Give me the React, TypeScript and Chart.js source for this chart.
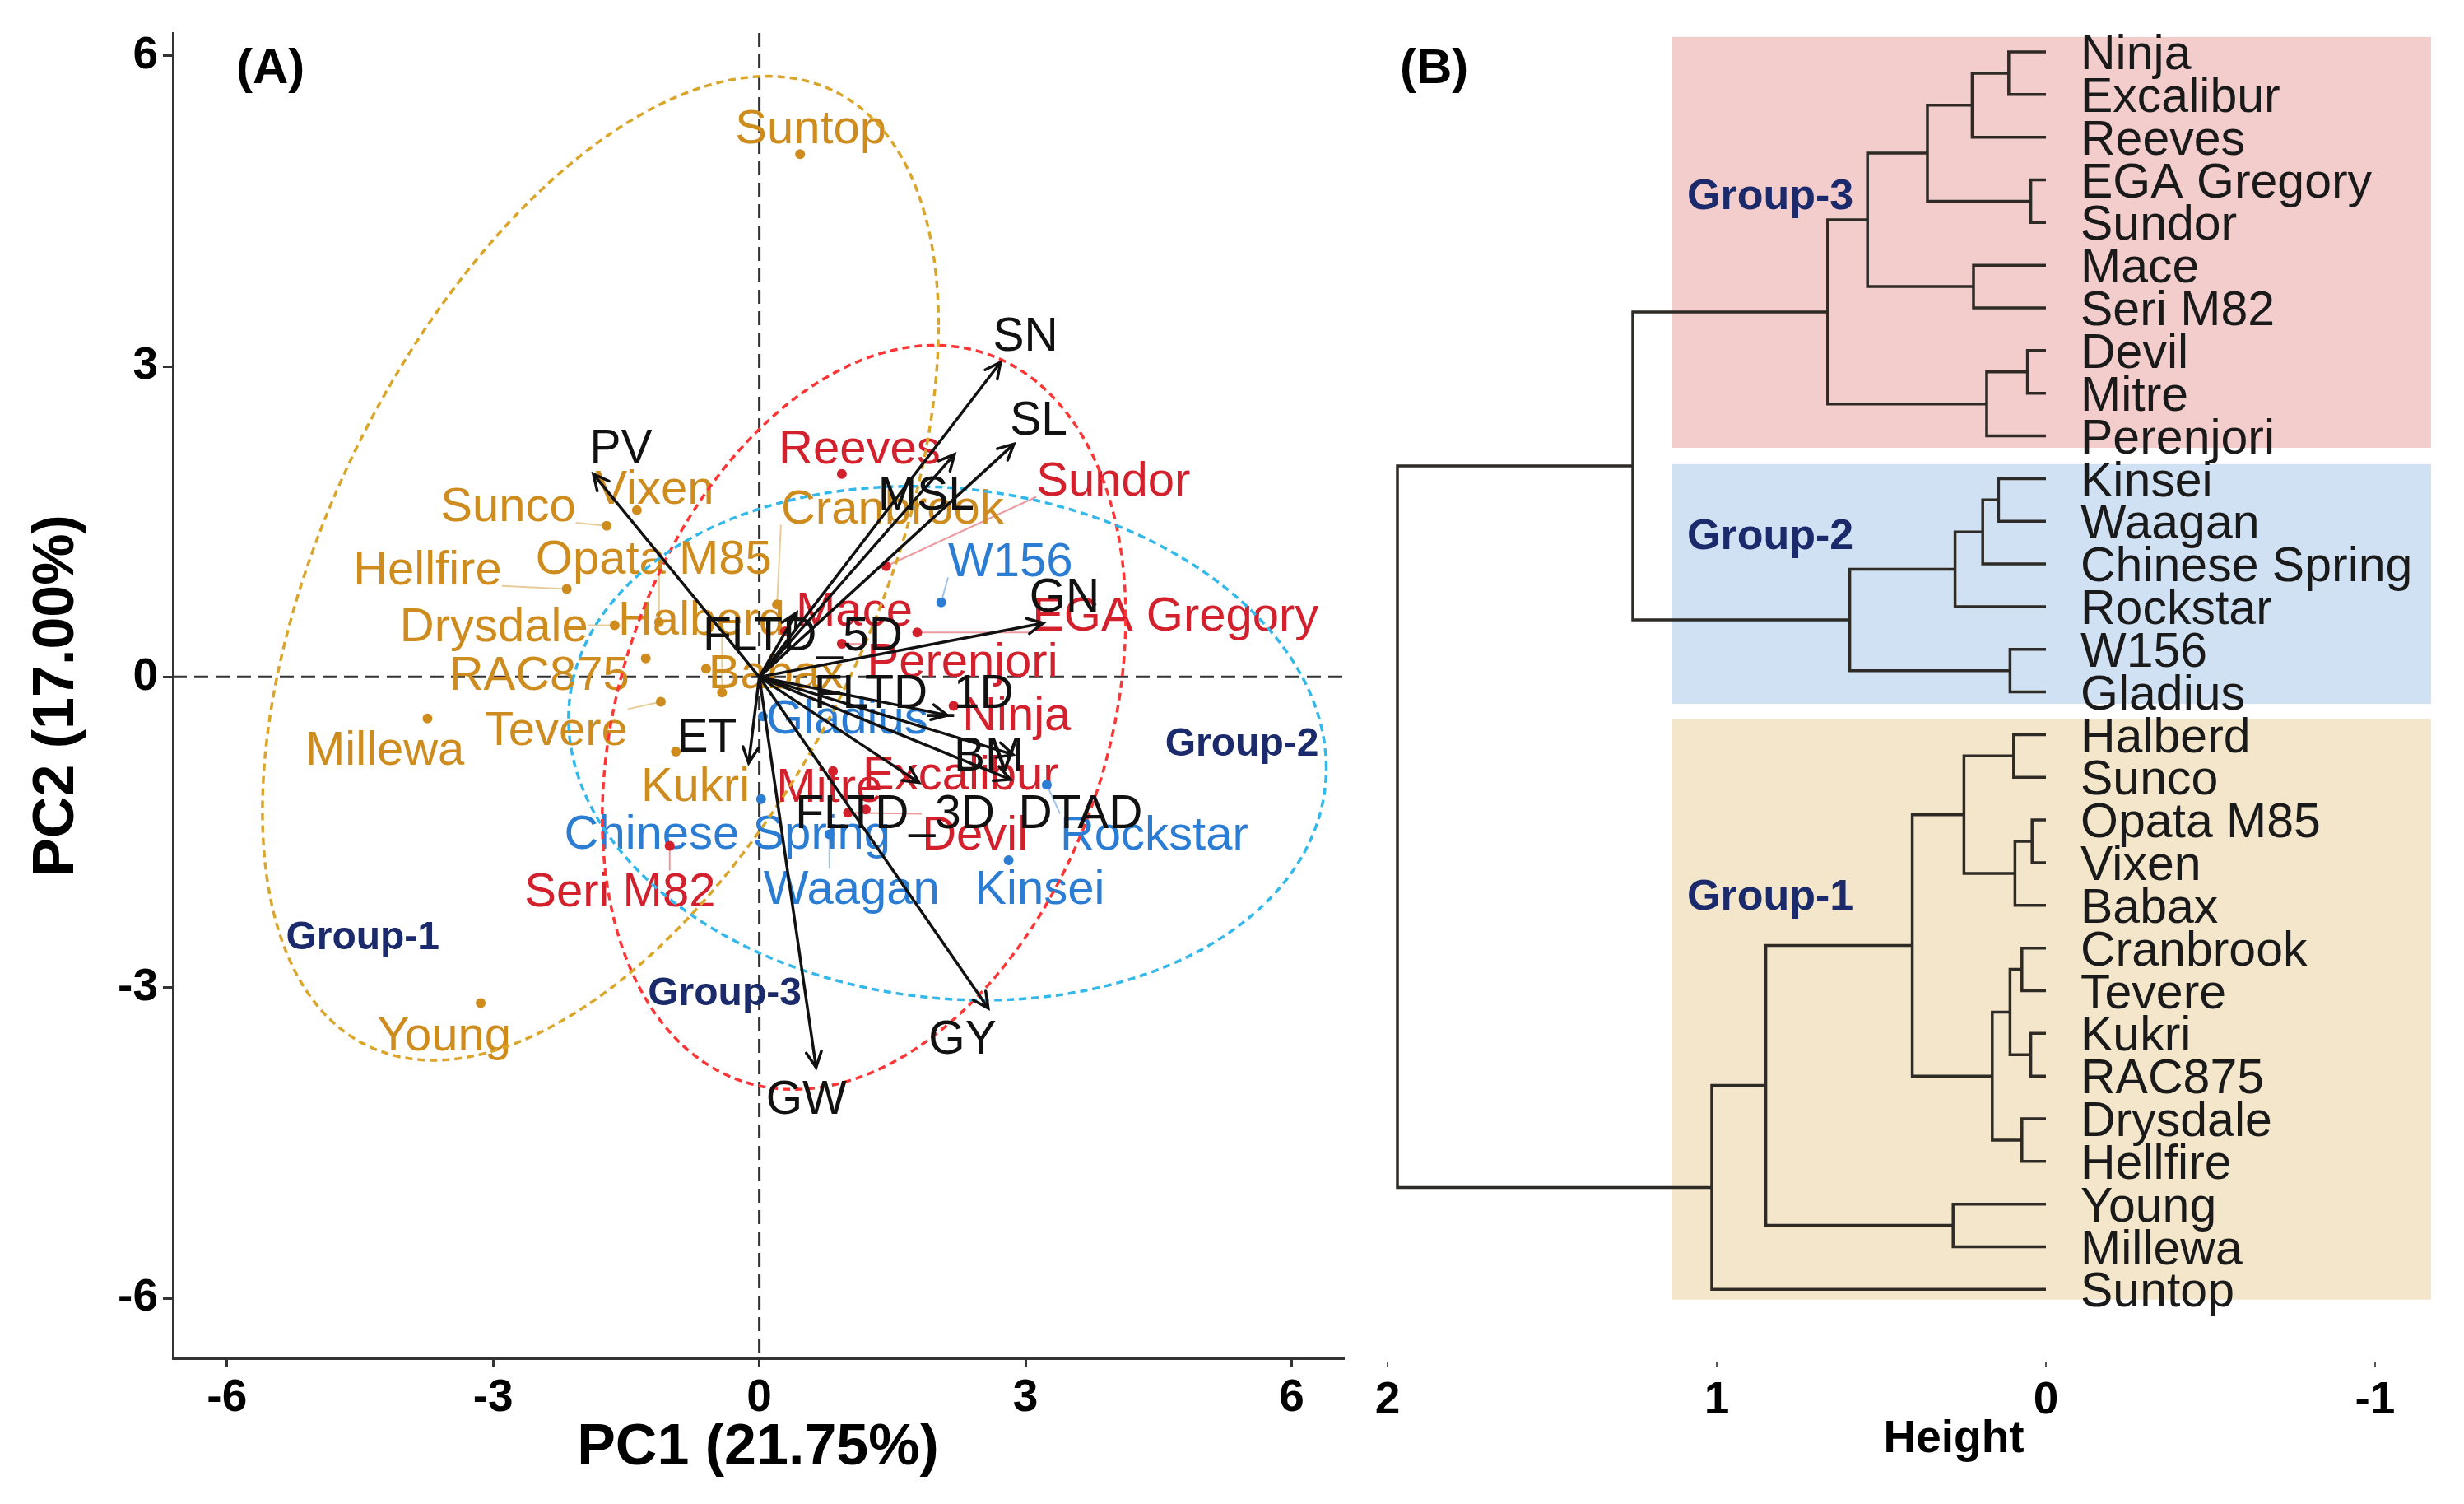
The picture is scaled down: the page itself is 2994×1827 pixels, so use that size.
import React, { useEffect, useRef } from "react";
import { Chart, registerables } from "chart.js";

Chart.register(...registerables);

const FONT = '"Liberation Sans", Arial, Helvetica, sans-serif';

// ---------------- PCA biplot data ----------------
const genotypes = ["Suntop","Sunco","Vixen","Hellfire","Drysdale","Opata M85","RAC875","Babax","Tevere","Halberd","Kukri","Millewa","Young","Cranbrook","W156","Gladius","Chinese Spring","Waagan","Kinsei","Rockstar","Reeves","Sundor","Mace","EGA Gregory","Perenjori","Ninja","Excalibur","Mitre","Devil","Seri M82"];
const genotypeGroup = [0,0,0,0,0,0,0,0,0,0,0,0,0,0, 1,1,1,1,1,1, 2,2,2,2,2,2,2,2,2,2];
const pc1 = [0.46,-1.72,-1.38,-2.17,-1.63,-1.13,-1.28,-0.60,-1.11,-0.42,-0.94,-3.74,-3.14,0.20, 2.05,0.04,0.02,0.79,2.81,3.24, 0.93,1.43,0.29,1.78,0.93,2.19,1.20,0.83,1.00,-1.01];
const pc2 = [5.05,1.46,1.61,0.85,0.50,0.53,0.18,0.08,-0.24,-0.15,-0.72,-0.40,-3.15,0.70, 0.72,-0.38,-1.18,-1.52,-1.77,-1.04, 1.96,1.07,0.44,0.43,0.32,-0.28,-1.28,-0.91,-1.31,-1.63];
const labelPc1 = [0.58,-2.83,-1.18,-3.74,-2.99,-1.19,-2.48,0.19,-2.29,-0.65,-0.72,-4.22,-3.55,1.50, 2.83,0.99,-0.36,1.04,3.16,4.45, 1.13,3.99,1.07,4.69,2.29,2.90,2.27,0.79,2.43,-1.57];
const labelPc2 = [5.32,1.67,1.84,1.06,0.51,1.16,0.04,0.06,-0.49,0.57,-1.03,-0.68,-3.44,1.65, 1.14,-0.38,-1.49,-2.03,-2.03,-1.50, 2.23,1.92,0.66,0.61,0.17,-0.35,-0.92,-1.04,-1.50,-2.05];

const traits = ["PV","SN","SL","MSL","GN","FLTD_5D","FLTD_1D","BM","DTAD","FLTD_3D","GY","GW","ET"];
const traitPc1 = [-1.87,2.72,2.87,2.20,3.20,0.42,2.12,2.86,2.83,1.80,2.58,0.64,-0.12];
const traitPc2 = [1.96,3.04,2.25,2.15,0.52,0.62,-0.37,-0.75,-0.99,-1.02,-3.20,-3.77,-0.83];
const traitLabelPc1 = [-1.56,3.00,3.15,1.88,3.44,0.49,1.74,2.59,3.62,1.53,2.29,0.53,-0.59];
const traitLabelPc2 = [2.23,3.31,2.50,1.78,0.79,0.42,-0.14,-0.74,-1.30,-1.30,-3.48,-4.06,-0.56];

const groupNames = ["Group-1","Group-2","Group-3"];
const groupPointColors = ["#CF8C1E","#2B7CD3","#D2202C"];
const groupEllipseColors = ["#DBA52A","#33B8EC","#FF3535"];
const groupLabelPc1 = [-4.47,5.44,-0.39];
const groupLabelPc2 = [-2.49,-0.62,-3.03];
// ellipse: x = cx + a cos t ; y = cy + c cos t + b sin t
const ellipseCx = [-1.79,2.12,1.18];
const ellipseCy = [1.05,-0.64,-0.39];
const ellipseA = [3.81,4.27,2.95];
const ellipseC = [2.35,-0.24,0.97];
const ellipseB = [4.13,2.47,3.46];

const pcTicks = [-6,-3,0,3,6];

// ---------------- Dendrogram data ----------------
const leafNames = ["Ninja","Excalibur","Reeves","EGA Gregory","Sundor","Mace","Seri M82","Devil","Mitre","Perenjori","Kinsei","Waagan","Chinese Spring","Rockstar","W156","Gladius","Halberd","Sunco","Opata M85","Vixen","Babax","Cranbrook","Tevere","Kukri","RAC875","Drysdale","Hellfire","Young","Millewa","Suntop"];
const mergeLeft = [-19,-4,-24,-8,-22,-26,1,-17,5,-15,-1,-11,9,4,12,-6,11,8,15,-28,17,18,21,19,23,22,26,25,28];
const mergeRight = [-20,-5,-25,-9,-23,-27,-21,-18,3,-16,-2,-12,6,-10,-13,-7,-3,7,-14,-29,2,13,16,10,14,20,-30,24,27];
const mergeHeight = [0.042,0.046,0.046,0.056,0.073,0.073,0.094,0.098,0.109,0.109,0.113,0.144,0.163,0.18,0.192,0.22,0.224,0.249,0.276,0.282,0.36,0.406,0.542,0.596,0.663,0.851,1.015,1.255,1.97];
const clusterNames = ["Group-3","Group-2","Group-1"];
const clusterColors = ["#F3CCCC","#D0E1F3","#F4E6CA"];
const clusterTop = [0.65,10.66,16.64];
const clusterBottom = [10.28,16.28,30.24];
const clusterLabelPos = [4.32,12.3,20.75];
const clusterHigh = 1.135;
const clusterLow = -1.17;
const heightTicks = [-1,0,1,2];

// ---------------- helpers ----------------
function ellipsePoints(g: number) {
  const pts: { x: number; y: number }[] = [];
  const n = 240;
  for (let i = 0; i <= n; i++) {
    const t = (2 * Math.PI * i) / n;
    pts.push({
      x: ellipseCx[g] + ellipseA[g] * Math.cos(t),
      y: ellipseCy[g] + ellipseC[g] * Math.cos(t) + ellipseB[g] * Math.sin(t),
    });
  }
  return pts;
}

function hexAlpha(hex: string, a: number) {
  const r = parseInt(hex.slice(1, 3), 16), g = parseInt(hex.slice(3, 5), 16), b = parseInt(hex.slice(5, 7), 16);
  return `rgba(${r},${g},${b},${a})`;
}

// draw text so that its cap-height centre sits on cy
function textAt(ctx: any, s: string, x: number, cy: number, size: number) {
  ctx.textBaseline = "alphabetic";
  ctx.fillText(s, x, cy + size * 0.358);
}

const pcaPlugin = {
  id: "pcaDecor",
  beforeDatasetsDraw(chart: any) {
    const { ctx, chartArea, scales } = chart;
    const x = scales.x, y = scales.y;
    ctx.save();
    // zero reference lines
    ctx.strokeStyle = "#333";
    ctx.lineWidth = 3;
    ctx.setLineDash([17, 9]);
    const x0 = x.getPixelForValue(0), y0 = y.getPixelForValue(0);
    ctx.beginPath(); ctx.moveTo(x0, chartArea.top); ctx.lineTo(x0, chartArea.bottom); ctx.stroke();
    ctx.beginPath(); ctx.moveTo(chartArea.left, y0); ctx.lineTo(chartArea.right, y0); ctx.stroke();
    ctx.setLineDash([]);
    // genotype labels with repel segments
    const size = 58;
    ctx.font = `${size}px ${FONT}`;
    ctx.textAlign = "center";
    for (let i = 0; i < genotypes.length; i++) {
      const col = groupPointColors[genotypeGroup[i]];
      const px = x.getPixelForValue(pc1[i]), py = y.getPixelForValue(pc2[i]);
      const cx = x.getPixelForValue(labelPc1[i]), cy = y.getPixelForValue(labelPc2[i]);
      const w = ctx.measureText(genotypes[i]).width;
      const h = size * 0.78;
      const nx = Math.max(cx - w / 2, Math.min(px, cx + w / 2));
      const ny = Math.max(cy - h / 2, Math.min(py, cy + h / 2));
      if (Math.hypot(px - nx, py - ny) > 24) {
        ctx.strokeStyle = hexAlpha(col, 0.45);
        ctx.lineWidth = 2;
        ctx.beginPath(); ctx.moveTo(px, py); ctx.lineTo(nx, ny); ctx.stroke();
      }
    }
    for (let i = 0; i < genotypes.length; i++) {
      ctx.fillStyle = groupPointColors[genotypeGroup[i]];
      textAt(ctx, genotypes[i], x.getPixelForValue(labelPc1[i]), y.getPixelForValue(labelPc2[i]), size);
    }
    ctx.restore();
  },
  afterDatasetsDraw(chart: any) {
    const { ctx, scales } = chart;
    const x = scales.x, y = scales.y;
    ctx.save();
    // arrow heads
    ctx.strokeStyle = "#111";
    ctx.lineWidth = 3.5;
    ctx.lineCap = "round";
    const ox = x.getPixelForValue(0), oy = y.getPixelForValue(0);
    for (let i = 0; i < traits.length; i++) {
      const tx = x.getPixelForValue(traitPc1[i]), ty = y.getPixelForValue(traitPc2[i]);
      const ang = Math.atan2(ty - oy, tx - ox);
      const L = 21, spread = 0.46;
      ctx.beginPath();
      ctx.moveTo(tx - L * Math.cos(ang - spread), ty - L * Math.sin(ang - spread));
      ctx.lineTo(tx, ty);
      ctx.lineTo(tx - L * Math.cos(ang + spread), ty - L * Math.sin(ang + spread));
      ctx.stroke();
    }
    // trait labels
    ctx.fillStyle = "#111";
    ctx.font = `57px ${FONT}`;
    ctx.textAlign = "center";
    for (let i = 0; i < traits.length; i++) {
      textAt(ctx, traits[i], x.getPixelForValue(traitLabelPc1[i]), y.getPixelForValue(traitLabelPc2[i]), 57);
    }
    // group labels
    ctx.fillStyle = "#1B2A6B";
    ctx.font = `bold 48px ${FONT}`;
    for (let g = 0; g < groupNames.length; g++) {
      textAt(ctx, groupNames[g], x.getPixelForValue(groupLabelPc1[g]), y.getPixelForValue(groupLabelPc2[g]), 48);
    }
    ctx.restore();
  },
  afterDraw(chart: any) {
    const { ctx, chartArea } = chart;
    ctx.save();
    ctx.fillStyle = "#000";
    ctx.font = `bold 70px ${FONT}`;
    ctx.textAlign = "center";
    ctx.textBaseline = "middle";
    ctx.fillText("PC1 (21.75%)", (chartArea.left + chartArea.right) / 2, chartArea.bottom + 110);
    ctx.save();
    ctx.translate(chartArea.left - 140, (chartArea.top + chartArea.bottom) / 2);
    ctx.rotate(-Math.PI / 2);
    ctx.fillText("PC2 (17.00%)", 0, 0);
    ctx.restore();
    ctx.font = `bold 60px ${FONT}`;
    ctx.textAlign = "left";
    ctx.fillText("(A)", 287, 84);
    ctx.restore();
  },
};

function buildPcaConfig(): any {
  const datasets: any[] = [];
  // points (bottom)
  for (let g = 0; g < 3; g++) {
    const pts: { x: number; y: number }[] = [];
    for (let i = 0; i < genotypes.length; i++) if (genotypeGroup[i] === g) pts.push({ x: pc1[i], y: pc2[i] });
    datasets.push({ data: pts, backgroundColor: groupPointColors[g], borderWidth: 0, pointRadius: 6, order: 30 });
  }
  // ellipses
  for (let g = 0; g < 3; g++) {
    datasets.push({
      data: ellipsePoints(g), showLine: true, borderColor: groupEllipseColors[g], borderWidth: 3.5,
      borderDash: [9, 6], pointRadius: 0, fill: false, tension: 0, order: 20,
    });
  }
  // arrows
  for (let i = 0; i < traits.length; i++) {
    datasets.push({
      data: [{ x: 0, y: 0 }, { x: traitPc1[i], y: traitPc2[i] }], showLine: true, borderColor: "#111",
      borderWidth: 3.5, pointRadius: 0, fill: false, order: 10,
    });
  }
  const tickFont = { family: FONT, size: 55, weight: "bold" as const };
  return {
    type: "scatter",
    data: { datasets },
    options: {
      responsive: false,
      animation: false,
      devicePixelRatio: 1,
      layout: { padding: { left: 0, top: 40, right: 48, bottom: 0 } },
      plugins: { legend: { display: false }, tooltip: { enabled: false } },
      scales: {
        x: {
          type: "linear", min: -6.61, max: 6.58,
          afterBuildTicks: (s: any) => { s.ticks = pcTicks.map((v) => ({ value: v })); },
          ticks: { font: tickFont, color: "#000", padding: 6, maxRotation: 0, callback: (v: any) => String(v) },
          grid: { drawOnChartArea: false, drawTicks: true, tickLength: 10, tickColor: "#333", lineWidth: 3 },
          border: { display: true, color: "#333", width: 3 },
          afterFit: (s: any) => { s.height = 177; s.paddingLeft = 0; s.paddingRight = 0; },
        },
        y: {
          type: "linear", min: -6.58, max: 6.22,
          afterBuildTicks: (s: any) => { s.ticks = pcTicks.map((v) => ({ value: v })); },
          ticks: { font: tickFont, color: "#000", padding: 6, callback: (v: any) => String(v) },
          grid: { drawOnChartArea: false, drawTicks: true, tickLength: 12, tickColor: "#333", lineWidth: 3 },
          border: { display: true, color: "#333", width: 3 },
          afterFit: (s: any) => { s.width = 210; s.paddingTop = 0; s.paddingBottom = 0; },
        },
      },
    },
    plugins: [pcaPlugin],
  };
}

// ---------------- Dendrogram ----------------
function buildDendroDatasets() {
  const nodeY: number[] = [];
  const nodeH: number[] = [];
  const pos = (id: number) => (id < 0 ? { h: 0, y: -id } : { h: nodeH[id - 1], y: nodeY[id - 1] });
  const datasets: any[] = [];
  for (let m = 0; m < mergeHeight.length; m++) {
    const a = pos(mergeLeft[m]);
    const b = pos(mergeRight[m]);
    const h = mergeHeight[m];
    nodeH.push(h);
    nodeY.push((a.y + b.y) / 2);
    datasets.push({
      data: [{ x: a.h, y: a.y }, { x: h, y: a.y }, { x: h, y: b.y }, { x: b.h, y: b.y }],
      showLine: true, borderColor: "#2E2A26", borderWidth: 3.5, pointRadius: 0, fill: false, tension: 0,
      borderJoinStyle: "miter",
    });
  }
  return datasets;
}

const dendroPlugin = {
  id: "dendroDecor",
  beforeDatasetsDraw(chart: any) {
    const { ctx, scales } = chart;
    const x = scales.x, y = scales.y;
    ctx.save();
    for (let g = 0; g < clusterNames.length; g++) {
      const x1 = x.getPixelForValue(clusterHigh), x2 = x.getPixelForValue(clusterLow);
      const y1 = y.getPixelForValue(clusterTop[g]), y2 = y.getPixelForValue(clusterBottom[g]);
      ctx.fillStyle = clusterColors[g];
      ctx.fillRect(Math.min(x1, x2), Math.min(y1, y2), Math.abs(x2 - x1), Math.abs(y2 - y1));
    }
    ctx.fillStyle = "#1B2A6B";
    ctx.font = `bold 52px ${FONT}`;
    ctx.textAlign = "left";
    for (let g = 0; g < clusterNames.length; g++) {
      textAt(ctx, clusterNames[g], x.getPixelForValue(1.09), y.getPixelForValue(clusterLabelPos[g]), 52);
    }
    ctx.restore();
  },
  afterDatasetsDraw(chart: any) {
    const { ctx, scales } = chart;
    const x = scales.x, y = scales.y;
    ctx.save();
    ctx.fillStyle = "#1A1A1A";
    ctx.font = `59px ${FONT}`;
    ctx.textAlign = "left";
    for (let i = 0; i < leafNames.length; i++) {
      textAt(ctx, leafNames[i], x.getPixelForValue(-0.105), y.getPixelForValue(i + 1), 59);
    }
    ctx.restore();
  },
  afterDraw(chart: any) {
    const { ctx } = chart;
    ctx.save();
    ctx.fillStyle = "#000";
    ctx.textBaseline = "middle";
    ctx.font = `bold 55px ${FONT}`;
    ctx.textAlign = "center";
    ctx.fillText("Height", 774, 1749);
    ctx.font = `bold 60px ${FONT}`;
    ctx.textAlign = "left";
    ctx.fillText("(B)", 101, 84);
    ctx.restore();
  },
};

function buildDendroConfig(): any {
  const tickFont = { family: FONT, size: 55, weight: "bold" as const };
  return {
    type: "scatter",
    data: { datasets: buildDendroDatasets() },
    options: {
      responsive: false,
      animation: false,
      devicePixelRatio: 1,
      layout: { padding: { left: 80, top: 0, right: 34, bottom: 0 } },
      plugins: { legend: { display: false }, tooltip: { enabled: false } },
      scales: {
        x: {
          type: "linear", reverse: true, min: -1.185, max: 2.015,
          afterBuildTicks: (s: any) => { s.ticks = heightTicks.map((v) => ({ value: v })); },
          ticks: { font: tickFont, color: "#000", padding: 8, maxRotation: 0, callback: (v: any) => String(v) },
          grid: { drawOnChartArea: false, drawTicks: true, tickLength: 6, tickColor: "#555", lineWidth: 2 },
          border: { display: false },
          afterFit: (s: any) => { s.height = 172; s.paddingLeft = 0; s.paddingRight = 0; },
        },
        y: { type: "linear", display: false, reverse: true, min: -0.215, max: 31.71 },
      },
    },
    plugins: [dendroPlugin],
  };
}

export default function App() {
  const leftRef = useRef<HTMLCanvasElement>(null);
  const rightRef = useRef<HTMLCanvasElement>(null);
  useEffect(() => {
    Chart.defaults.font.family = FONT;
    const c1 = new Chart(leftRef.current as HTMLCanvasElement, buildPcaConfig());
    const c2 = new Chart(rightRef.current as HTMLCanvasElement, buildDendroConfig());
    return () => { c1.destroy(); c2.destroy(); };
  }, []);
  return (
    <div style={{ position: "absolute", left: 0, top: 0, width: 2994, height: 1827, background: "#fff", overflow: "hidden" }}>
      <canvas ref={leftRef} width={1680} height={1827} style={{ position: "absolute", left: 0, top: 0, width: 1680, height: 1827 }} />
      <canvas ref={rightRef} width={1394} height={1827} style={{ position: "absolute", left: 1600, top: 0, width: 1394, height: 1827 }} />
    </div>
  );
}
